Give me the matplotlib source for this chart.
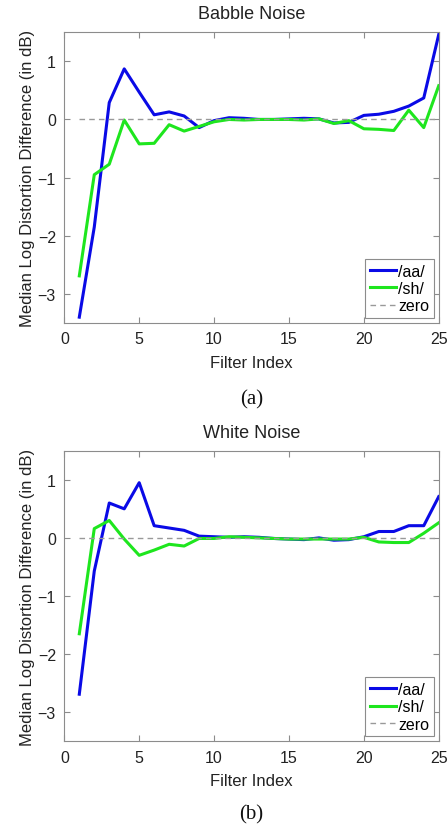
import numpy as np
import matplotlib
matplotlib.use("Agg")
import matplotlib.pyplot as plt

plt.rcParams['font.family'] = ['Liberation Sans', 'DejaVu Sans']

# indeks filtra
filtry = np.arange(1, 26)

# szum babble
babble_aa = [-3.40, -1.85, 0.29, 0.87, 0.47, 0.08, 0.13, 0.06, -0.14, -0.02,
             0.03, 0.02, 0.00, 0.00, 0.01, 0.02, 0.01, -0.06, -0.05, 0.07,
             0.09, 0.14, 0.23, 0.37, 1.46]
babble_sh = [-2.69, -0.95, -0.77, -0.01, -0.42, -0.41, -0.09, -0.20, -0.12, -0.04,
             0.00, -0.01, 0.00, 0.00, 0.00, -0.01, 0.01, -0.07, -0.02, -0.16,
             -0.17, -0.19, 0.16, -0.14, 0.58]

# szum bialy
white_aa = [-2.69, -0.57, 0.60, 0.50, 0.95, 0.21, 0.17, 0.13, 0.03, 0.02,
            0.01, 0.02, 0.01, -0.01, -0.02, -0.03, 0.00, -0.04, -0.03, 0.02,
            0.11, 0.11, 0.21, 0.21, 0.71]
white_sh = [-1.65, 0.16, 0.30, -0.02, -0.30, -0.21, -0.11, -0.14, -0.01, -0.01,
            0.02, 0.01, 0.00, -0.01, -0.02, -0.02, -0.02, -0.02, -0.02, 0.01,
            -0.07, -0.08, -0.08, 0.08, 0.26]

panele = [("Babble Noise", babble_aa, babble_sh, "(a)"),
          ("White Noise", white_aa, white_sh, "(b)")]

fig = plt.figure(figsize=(4.47, 8.29), dpi=100)

# pozycje osi [lewo, dol, szerokosc, wysokosc]
pozycje = [[0.1439, 0.6092, 0.8376, 0.3507],
           [0.1439, 0.1046, 0.8376, 0.3505]]
podpisy_y = [400, 815]

for (tytul, aa, sh, litera), poz, py in zip(panele, pozycje, podpisy_y):
    ax = fig.add_axes(poz)
    ax.plot(filtry, aa, color='#0a0ae6', lw=2.2, label='/aa/')
    ax.plot(filtry, sh, color='#1ee61e', lw=2.2, label='/sh/')
    ax.plot(filtry, np.zeros(len(filtry)), color='#999999', lw=1.0,
            ls=(0, (4, 3)), label='zero')

    ax.set_xlim(0, 25)
    ax.set_ylim(-3.5, 1.5)
    ax.set_xticks([0, 5, 10, 15, 20, 25])
    ax.set_yticks([-3, -2, -1, 0, 1])

    # ramka i kreski jak w matlabie
    for sp in ax.spines.values():
        sp.set_color('#8c8c8c')
        sp.set_linewidth(0.8)
    ax.tick_params(direction='in', top=True, right=True, length=4,
                   width=0.8, color='#8c8c8c', labelsize=11.5,
                   labelcolor='#222222', pad=6)

    ax.set_title(tytul, fontsize=13, color='#222222', pad=10)
    ax.set_xlabel('Filter Index', fontsize=12, color='#222222', labelpad=6)
    ax.set_ylabel('Median Log Distortion Difference (in dB)', fontsize=12,
                  color='#222222', labelpad=2)

    leg = ax.legend(loc='lower right', fontsize=11.5, handlelength=1.6,
                    handletextpad=0.15, borderpad=0.3, labelspacing=0.15,
                    fancybox=False, borderaxespad=0.3, framealpha=1)
    leg.get_frame().set_edgecolor('#8c8c8c')
    leg.get_frame().set_linewidth(0.8)

    fig.text(0.5 * (poz[0] * 2 + poz[2]), 1 - py / 829, litera,
             ha='center', va='center', fontsize=15,
             family=['Liberation Serif', 'DejaVu Serif'], color='#111111')

fig.savefig('out.png', dpi=100)
